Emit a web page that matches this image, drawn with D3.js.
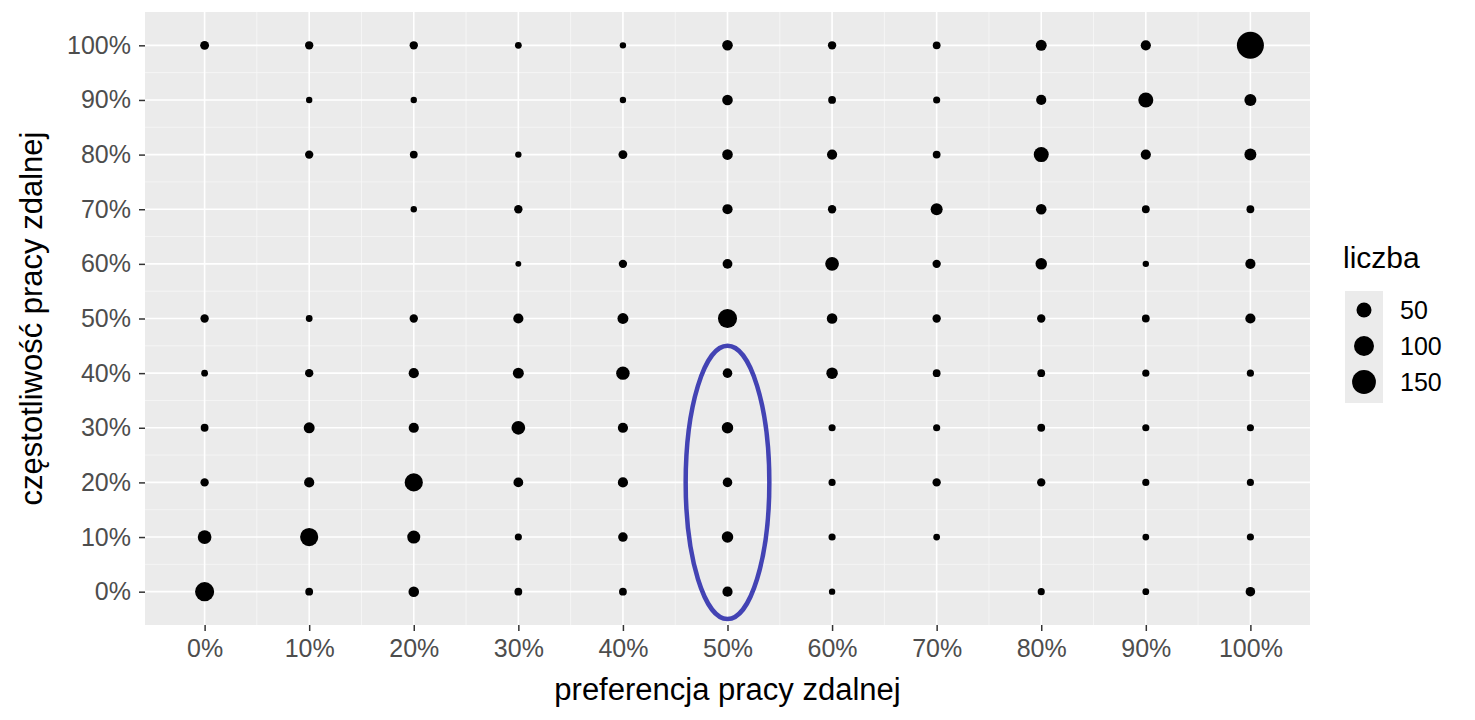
<!DOCTYPE html>
<html><head><meta charset="utf-8">
<script src="https://cdn.jsdelivr.net/npm/d3@7"></script>
<style>body{margin:0;background:#fff;font-family:"Liberation Sans",Arial,sans-serif;}</style>
</head><body>
<script>
// categories (percent levels) for both axes
var levels = [0,10,20,30,40,50,60,70,80,90,100];
// counts per column (preference), listed from y=0% up to y=100%; null = no point
var c0   = [90,40,10,8,5,10,null,null,null,null,12];
var c10  = [8,80,18,22,10,5,null,null,10,4,10];
var c20  = [20,35,80,18,18,10,null,4,8,4,10];
var c30  = [8,6,16,40,22,18,3,10,4,null,5];
var c40  = [8,15,18,18,38,22,10,null,12,4,4];
var c50  = [18,25,15,25,15,90,16,18,20,20,20];
var c60  = [4,6,6,6,25,20,40,10,18,8,10];
var c70  = [null,5,10,6,8,10,10,28,8,6,8];
var c80  = [6,null,10,8,8,10,25,20,50,18,22];
var c90  = [5,5,6,6,6,8,4,8,18,50,18];
var c100 = [15,6,6,6,6,18,18,8,28,28,200];
var columns = [c0,c10,c20,c30,c40,c50,c60,c70,c80,c90,c100];
var legendVals = [50,100,150];

var W = 1475, H = 720;
var svg = d3.select("body").append("svg").attr("width", W).attr("height", H);
var panel = {l:145, r:1310, t:12, b:625};

var x = d3.scaleLinear().domain([-5.7,105.7]).range([panel.l, panel.r]);
var y = d3.scaleLinear().domain([-6.1,106.1]).range([panel.b, panel.t]);
var r = d3.scaleSqrt().domain([0,200]).range([1.5,13.5]);

svg.append("rect").attr("x",panel.l).attr("y",panel.t)
  .attr("width",panel.r-panel.l).attr("height",panel.b-panel.t).attr("fill","#ebebeb");

// grid
var minor = d3.range(5,100,10);
svg.selectAll("line.vmin").data(minor).enter().append("line")
  .attr("x1",d=>x(d)).attr("x2",d=>x(d)).attr("y1",panel.t).attr("y2",panel.b)
  .attr("stroke","#f7f7f7").attr("stroke-width",0.8);
svg.selectAll("line.hmin").data(minor).enter().append("line")
  .attr("y1",d=>y(d)).attr("y2",d=>y(d)).attr("x1",panel.l).attr("x2",panel.r)
  .attr("stroke","#f7f7f7").attr("stroke-width",0.8);
svg.selectAll("line.v").data(levels).enter().append("line")
  .attr("x1",d=>x(d)).attr("x2",d=>x(d)).attr("y1",panel.t).attr("y2",panel.b)
  .attr("stroke","#fff").attr("stroke-width",1.6);
svg.selectAll("line.h").data(levels).enter().append("line")
  .attr("y1",d=>y(d)).attr("y2",d=>y(d)).attr("x1",panel.l).attr("x2",panel.r)
  .attr("stroke","#fff").attr("stroke-width",1.6);

// points
var pts = [];
columns.forEach(function(col,i){
  col.forEach(function(v,j){ if(v!=null) pts.push({x:levels[i], y:levels[j], v:v}); });
});
svg.selectAll("circle.pt").data(pts).enter().append("circle")
  .attr("cx",d=>x(d.x)).attr("cy",d=>y(d.y)).attr("r",d=>r(d.v)).attr("fill","#000");

// highlight ellipse
svg.append("ellipse").attr("cx",x(50)).attr("cy",y(20))
  .attr("rx",x(54)-x(50)).attr("ry",y(-5)-y(20))
  .attr("fill","none").attr("stroke","#4343b4").attr("stroke-width",4.5);

// axes
var xa = svg.append("g").attr("transform","translate(0,"+panel.b+")")
  .call(d3.axisBottom(x).tickValues(levels).tickFormat(d=>d+"%").tickSize(6).tickPadding(8));
var ya = svg.append("g").attr("transform","translate("+panel.l+",0)")
  .call(d3.axisLeft(y).tickValues(levels).tickFormat(d=>d+"%").tickSize(6).tickPadding(8));
[xa,ya].forEach(function(a){
  a.select(".domain").remove();
  a.selectAll("line").attr("stroke","#333").attr("stroke-width",1.5);
  a.selectAll("text").attr("fill","#4d4d4d").style("font-size","25px")
    .style("font-family","Liberation Sans, Arial, sans-serif");
});

svg.append("text").attr("x",(panel.l+panel.r)/2).attr("y",700).attr("text-anchor","middle")
  .style("font-size","31px").text("preferencja pracy zdalnej");
svg.append("text").attr("transform","translate(42,"+((panel.t+panel.b)/2)+") rotate(-90)")
  .attr("text-anchor","middle").style("font-size","31px").text("częstotliwość pracy zdalnej");

// legend
svg.append("text").attr("x",1343).attr("y",268).style("font-size","30px").text("liczba");
var lg = svg.append("g");
lg.append("rect").attr("x",1345).attr("y",291).attr("width",38).attr("height",112).attr("fill","#ebebeb");
legendVals.forEach(function(v,i){
  var cy = 310 + i*36;
  lg.append("circle").attr("cx",1364).attr("cy",cy).attr("r",r(v)).attr("fill","#000");
  lg.append("text").attr("x",1400).attr("y",cy+9).style("font-size","25px").text(v);
});
</script>
</body></html>
